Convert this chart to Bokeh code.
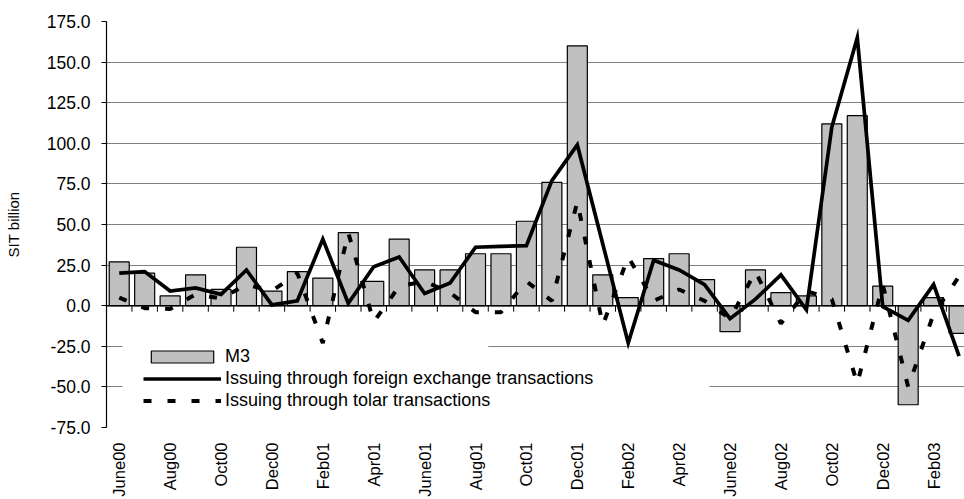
import math
from bokeh.plotting import figure
from bokeh.models import (FixedTicker, NumeralTickFormatter, Span, Legend, LegendItem,
                          BoxAnnotation, Range1d, ColumnDataSource)
from bokeh.embed import file_html
from bokeh.resources import INLINE

months = ["June00", "Jul00", "Aug00", "Sep00", "Oct00", "Nov00", "Dec00", "Jan01",
          "Feb01", "Mar01", "Apr01", "May01", "June01", "Jul01", "Aug01", "Sep01",
          "Oct01", "Nov01", "Dec01", "Jan02", "Feb02", "Mar02", "Apr02", "May02",
          "June02", "Jul02", "Aug02", "Sep02", "Oct02", "Nov02", "Dec02", "Jan03",
          "Feb03", "Mar03"]
m3 = [27, 20, 6, 19, 10, 36, 9, 21, 17, 45, 15, 41, 22, 22, 32, 32, 52, 76, 160, 19,
      5, 29, 32, 16, -16, 22, 8, 6, 112, 117, 12, -61, 5, -17]
fx = [20, 21, 9, 11, 7, 22, 0.5, 3, 41, 1.5, 24, 30, 7.5, 14, 36, 36.5, 37, 77, 99, 38,
      -23, 28, 22, 13, -8, 4, 19, -2.5, 110, 165, -0.5, -9, 13, -31]
tolar = [5, -1.5, -2, 7, 4.5, 13, 9, 20, -23, 45, -10, 12, 15, 8, -4, -4, 15, 3, 64, -12,
         30, 3, 10, 3, -8, 21, -11, 9, 4, -48, 13, -50, -5, 18]
y_ticks = [-75, -50, -25, 0, 25, 50, 75, 100, 125, 150, 175]
label_every = 2

FONT = "Liberation Sans"
n = len(months)
xs = list(range(n))
src = ColumnDataSource(dict(x=xs, m3=m3, fx=fx, tolar=tolar))

FRAME_W = 860
CAT_PX = 25.45
p = figure(width=106 + FRAME_W, height=512,
           x_range=Range1d(-0.5, -0.5 + FRAME_W / CAT_PX),
           y_range=Range1d(y_ticks[0], y_ticks[-1]),
           output_backend="svg", toolbar_location=None,
           min_border_left=106, min_border_top=21, min_border_right=0, min_border_bottom=85)
p.outline_line_color = None
p.background_fill_color = "white"

# grid
p.xgrid.visible = False
p.ygrid.grid_line_color = "#808080"
p.ygrid.grid_line_width = 1

# hide gridlines behind legend area
p.add_layout(BoxAnnotation(left=0.129, right=14.5, bottom=-27.5, top=-23.6,
                           fill_color="white", fill_alpha=1, line_alpha=0, level="underlay"))
p.add_layout(BoxAnnotation(left=0.129, right=23.19, bottom=-52.5, top=-47.6,
                           fill_color="white", fill_alpha=1, line_alpha=0, level="underlay"))

bars = p.vbar(x="x", top="m3", width=0.786, source=src, fill_color="#C0C0C0",
              line_color="black", line_width=1.2)

# zero axis line and category boundary ticks
p.add_layout(Span(location=0, dimension="width", line_color="black", line_width=1.5))
bounds = [i + 0.5 for i in range(n - 1)]
p.segment(x0=bounds, y0=[0] * len(bounds), x1=bounds, y1=[-3.7] * len(bounds),
          line_color="black", line_width=1)

fx_r = p.line(x="x", y="fx", source=src, line_color="black", line_width=3.7,
              line_join="miter")
tol_r = p.line(x="x", y="tolar", source=src, line_color="black", line_width=4,
               line_dash="8 16")

# y axis
p.yaxis.ticker = FixedTicker(ticks=y_ticks)
p.yaxis.formatter = NumeralTickFormatter(format="0.0")
p.yaxis.axis_line_color = "black"
p.yaxis.axis_line_width = 1.2
p.yaxis.major_tick_out = 5
p.yaxis.major_tick_in = 0
p.yaxis.major_tick_line_color = "black"
p.yaxis.minor_tick_line_color = None
p.yaxis.major_label_standoff = 11
p.yaxis.major_label_text_font = FONT
p.yaxis.major_label_text_font_size = "17.5px"
p.yaxis.major_label_text_color = "black"
p.yaxis.axis_label = "SIT billion"
p.yaxis.axis_label_text_font = FONT
p.yaxis.axis_label_text_font_size = "15px"
p.yaxis.axis_label_text_font_style = "normal"
p.yaxis.axis_label_text_color = "black"
p.yaxis.axis_label_standoff = 22

# x axis (labels only)
p.xaxis.ticker = FixedTicker(ticks=list(range(0, n, label_every)))
p.xaxis.major_label_overrides = {i: months[i] for i in range(0, n, label_every)}
p.xaxis.major_label_orientation = math.pi / 2
p.xaxis.axis_line_color = None
p.xaxis.major_tick_line_color = None
p.xaxis.minor_tick_line_color = None
p.xaxis.major_tick_out = 0
p.xaxis.major_tick_in = 0
p.xaxis.major_label_standoff = 15
p.xaxis.major_label_text_font = FONT
p.xaxis.major_label_text_font_size = "16.5px"
p.xaxis.major_label_text_color = "black"

legend = Legend(items=[
    LegendItem(label="M3", renderers=[bars]),
    LegendItem(label="Issuing through foreign exchange transactions", renderers=[fx_r]),
    LegendItem(label="Issuing through tolar transactions", renderers=[tol_r]),
], location=(37, 16), orientation="vertical", glyph_width=78, glyph_height=15,
    label_height=21, spacing=1, padding=0, margin=0, border_line_color=None,
    background_fill_alpha=0, label_text_font=FONT, label_text_font_size="18px",
    label_text_color="black", label_standoff=4)
p.add_layout(legend)

open("out.html", "w").write(file_html(p, INLINE))
